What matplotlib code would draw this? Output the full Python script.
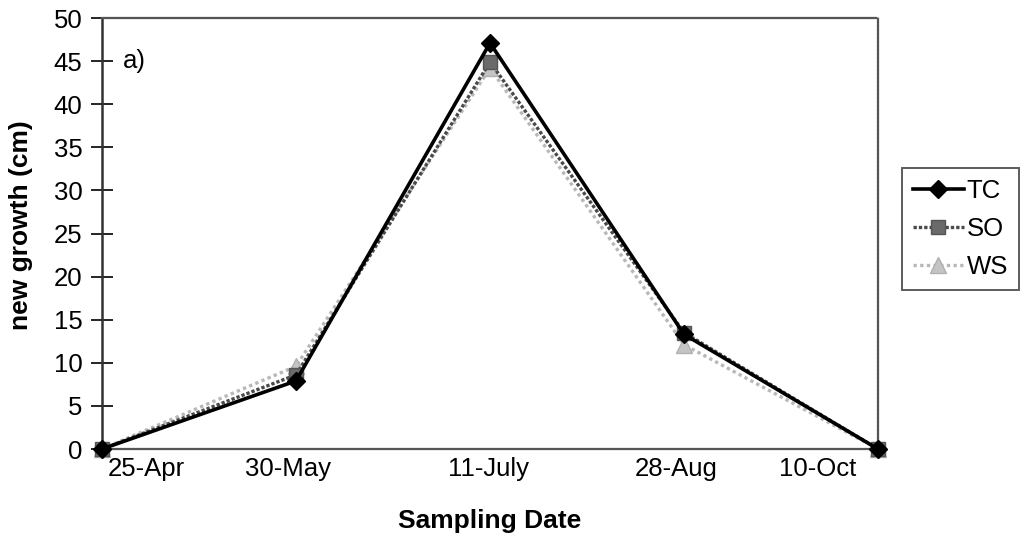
import matplotlib.pyplot as plt

# sampling dates (categories) and new growth (cm) per treatment
dates = ["25-Apr", "30-May", "11-July", "28-Aug", "10-Oct"]
tc = [0.0, 7.9, 47.1, 13.3, 0.0]
so = [0.0, 8.6, 44.9, 13.5, 0.0]
ws = [0.0, 9.6, 44.2, 12.1, 0.0]

# the original x labels sit off their points (Excel date axis)
label_pos = [0.23, 0.96, 1.99, 2.96, 3.69]

plt.rcParams["font.family"] = ["Liberation Sans", "DejaVu Sans"]

fig = plt.figure(figsize=(10.26, 5.38), dpi=100)
ax = fig.add_axes([0.0994, 0.1654, 0.7564, 0.8011])

x = list(range(len(dates)))
ax.plot(x, ws, color="#b8b8b8", linestyle=(0, (1, 1)), linewidth=2.4,
        marker="^", markersize=11, markerfacecolor="#c4c4c4",
        markeredgecolor="#b0b0b0", label="WS", zorder=3, clip_on=False)
ax.plot(x, so, color="#4a4a4a", linestyle=(0, (1, 0.6)), linewidth=2.4,
        marker="s", markersize=10, markerfacecolor="#6a6a6a",
        markeredgecolor="#555555", label="SO", zorder=4, clip_on=False)
ax.plot(x, tc, color="black", linewidth=2.6,
        marker="D", markersize=9, markerfacecolor="black",
        markeredgecolor="black", label="TC", zorder=5, clip_on=False)

ax.set_xlim(0, 4)
ax.set_ylim(0, 50)
ax.set_yticks(range(0, 51, 5))
ax.set_xticks(label_pos)
ax.set_xticklabels(dates)
ax.tick_params(axis="x", length=0, pad=6, labelsize=18.5)
ax.tick_params(axis="y", direction="inout", length=16, width=1.2,
               labelsize=18.5, pad=6)

for side in ["top", "right", "bottom"]:
    ax.spines[side].set_linestyle((0, (1, 0.8)))
    ax.spines[side].set_color("#555555")
    ax.spines[side].set_linewidth(1.6)
ax.spines["left"].set_color("#333333")
ax.spines["left"].set_linewidth(1.8)

ax.set_xlabel("Sampling Date", fontsize=19, fontweight="bold", labelpad=20)
ax.set_ylabel("new growth (cm)", fontsize=19, fontweight="bold")
ax.yaxis.set_label_coords(-0.089, 0.52)

ax.text(0.11, 45, "a)", fontsize=18.5, va="center")

handles, labels = ax.get_legend_handles_labels()
order = [2, 1, 0]
leg = fig.legend([handles[i] for i in order], [labels[i] for i in order],
                 loc="upper left", bbox_to_anchor=(0.879, 0.688),
                 fontsize=18.5, frameon=True, fancybox=False,
                 edgecolor="#333333", handlelength=2.0, handletextpad=0.1,
                 borderpad=0.42, labelspacing=0.56, borderaxespad=0)
leg.get_frame().set_linewidth(1.4)

fig.savefig("out.png", dpi=100)
